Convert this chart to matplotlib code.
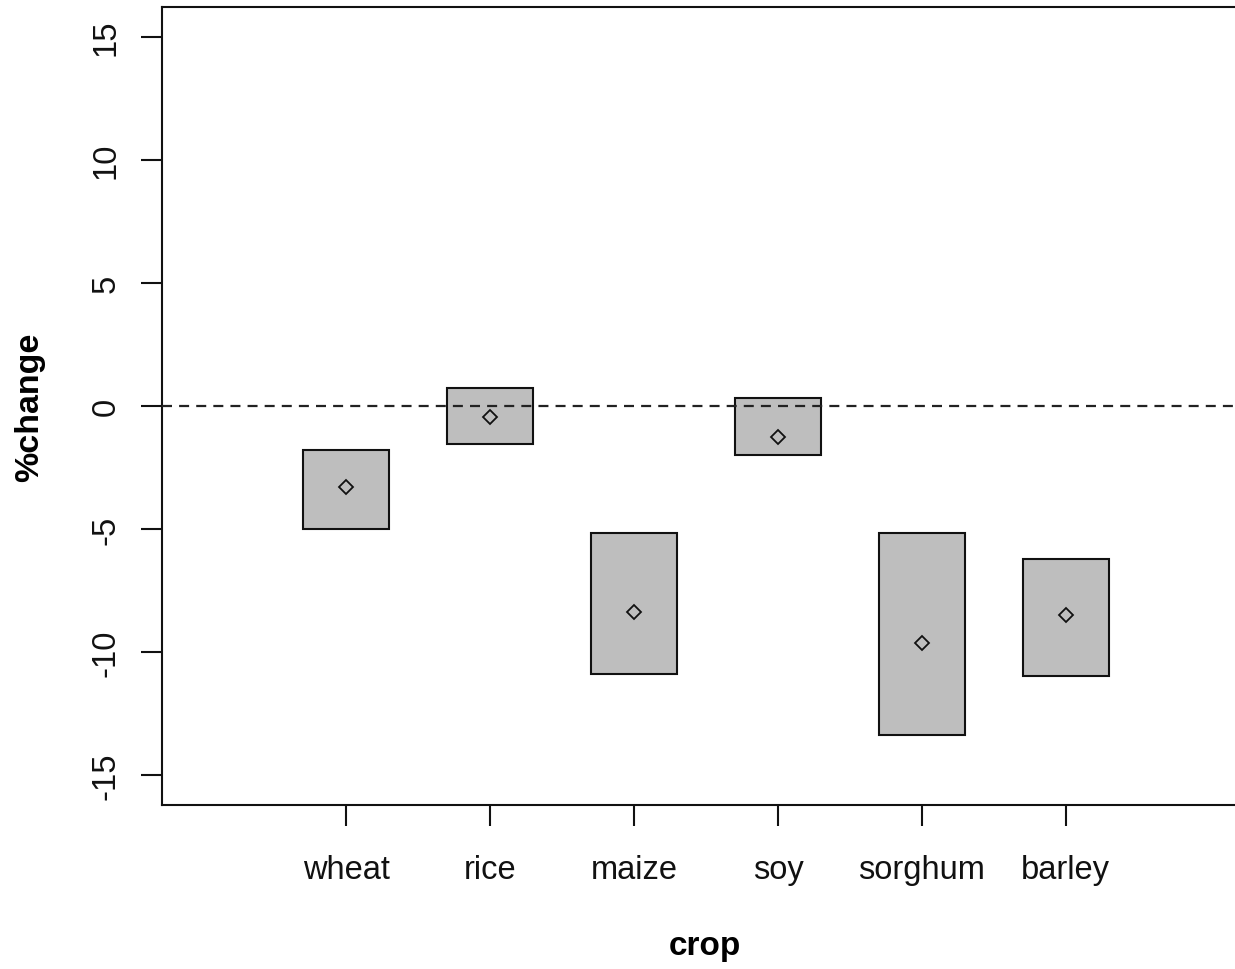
import matplotlib
matplotlib.use("Agg")
import matplotlib.pyplot as plt
from matplotlib.patches import Rectangle

crops = ["wheat", "rice", "maize", "soy", "sorghum", "barley"]
lower = [-4.99, -1.56, -10.9, -2.0, -13.35, -10.96]
upper = [-1.79, 0.73, -5.15, 0.33, -5.14, -6.21]
mean = [-3.27, -0.46, -8.37, -1.25, -9.61, -8.47]
yticks = [-15, -10, -5, 0, 5, 10, 15]

plt.rcParams['font.family'] = ['Liberation Sans', 'DejaVu Sans']

W, H = 1235, 970
fig = plt.figure(figsize=(W / 100, H / 100), dpi=100)
left_px, right_px, top_px, bottom_px = 162, 1250, 8, 806
ax = fig.add_axes([left_px / W, 1 - bottom_px / H,
                   (right_px - left_px) / W, (bottom_px - top_px) / H])

pos = list(range(1, len(crops) + 1))
bw = 0.6
for x, lo, hi in zip(pos, lower, upper):
    ax.add_patch(Rectangle((x - bw / 2, lo), bw, hi - lo, facecolor='#bebebe',
                           edgecolor='#111111', linewidth=1.5, zorder=2))
ax.plot(pos, mean, linestyle='none', marker='D', markersize=7.5,
        markerfacecolor='none', markeredgecolor='#111111', markeredgewidth=1.3, zorder=3)
ax.axhline(0, color='#222222', linewidth=1.6, linestyle=(0, (4.5, 3.2)), zorder=4)

ax.set_xlim(-0.28, 7.28)
ax.set_ylim(-16.2, 16.2)
ax.set_xticks(pos)
ax.set_xticklabels(crops)
ax.set_yticks(yticks)
ax.set_yticklabels([str(v) for v in yticks], rotation=90, va='center')
for s in ax.spines.values():
    s.set_linewidth(1.5)
    s.set_color('#111111')
ax.tick_params(axis='both', length=15, width=1.5, labelsize=23.5, colors='#111111')
ax.tick_params(axis='x', pad=20)
ax.tick_params(axis='y', pad=14)

ax.set_xlabel('crop', fontsize=24, fontweight='bold')
ax.xaxis.set_label_coords((705 - left_px) / (right_px - left_px), -(947 - bottom_px) / (bottom_px - top_px))
ax.xaxis.label.set_va('center')
ax.set_ylabel('%change', fontsize=24.5, fontweight='bold')
ax.yaxis.set_label_coords(-(left_px - 30) / (right_px - left_px), 0.5)
ax.yaxis.label.set_va('center')

fig.savefig('out.png', dpi=100)
